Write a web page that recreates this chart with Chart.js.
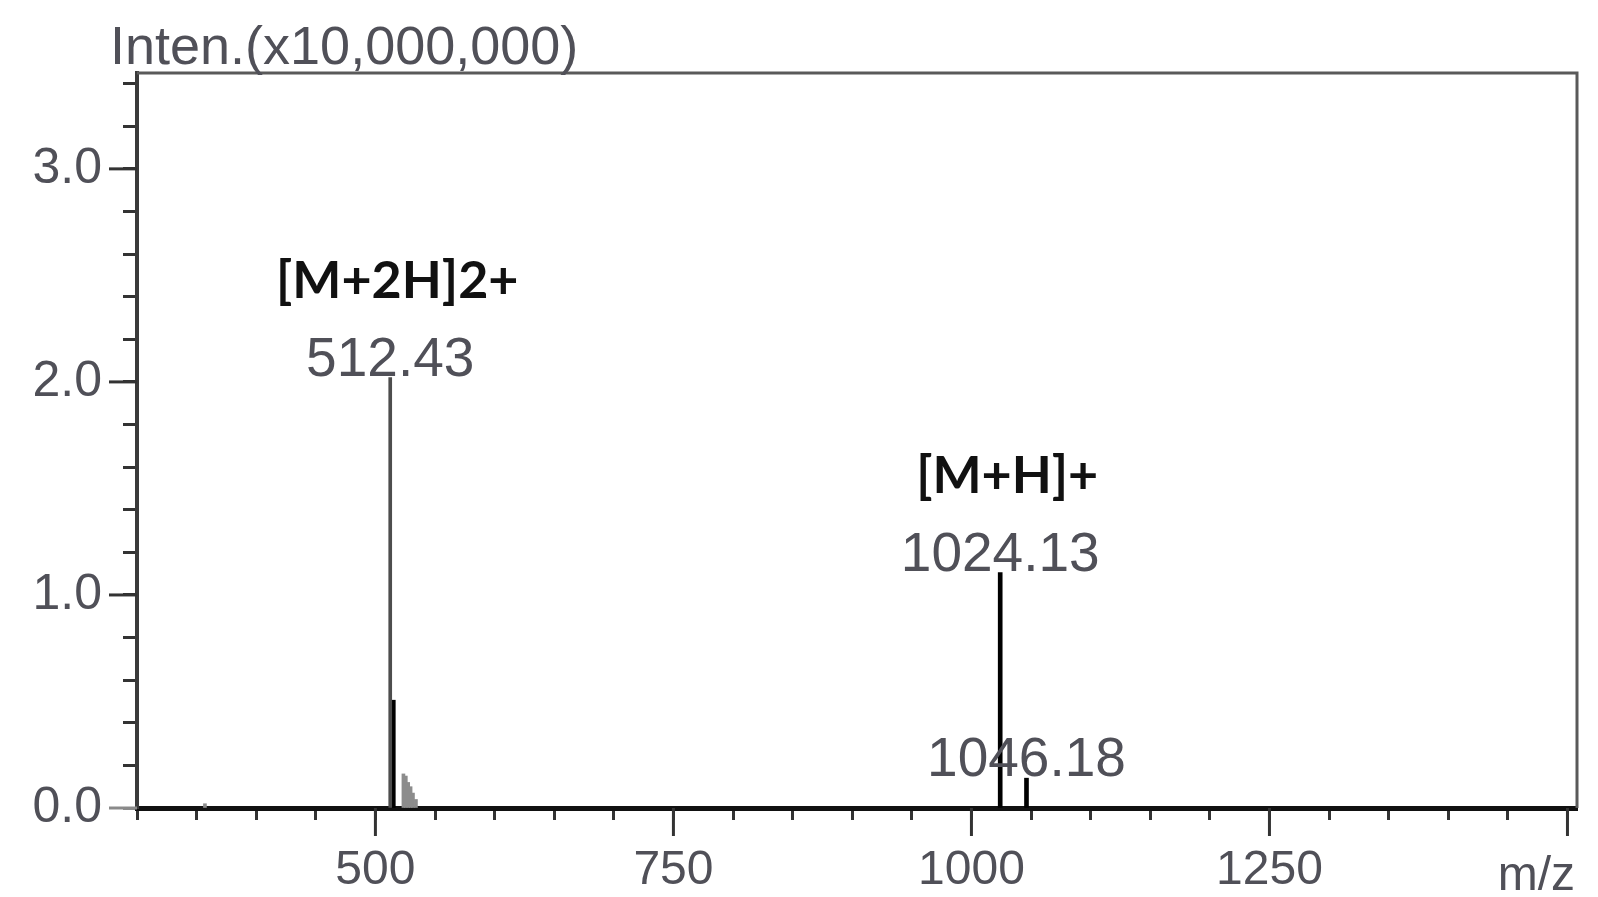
<!DOCTYPE html>
<html>
<head>
<meta charset="utf-8">
<title>MS spectrum</title>
<script src="https://cdn.jsdelivr.net/npm/chart.js@4.4.0/dist/chart.umd.min.js"></script>
<style>
  html, body { margin: 0; padding: 0; background: #fff; }
  #wrap { width: 1598px; height: 897px; position: relative; }
</style>
</head>
<body>
<div id="wrap"><canvas id="msChart"></canvas></div>
<script>
// PEAK DATA (m/z and intensity x10,000,000)
var mzBase = [512.43];
var intenBase = [2.02];
var mzStrong = [515.0, 1024.13, 1046.18];
var intenStrong = [0.506, 1.105, 0.14];
var mzMinor = [357.0, 523.5, 525.5, 527.5, 529.5, 531.5, 534.0];
var intenMinor = [0.02, 0.16, 0.15, 0.12, 0.10, 0.07, 0.04];

// LABELS
var peakLabelMz = [512.43, 1024.13, 1046.18];
var peakLabelInten = [2.02, 1.105, 0.14];
var peakLabelText = ['512.43', '1024.13', '1046.18'];
var ionMz = [512.43, 1024.13];
var ionInten = [2.02, 1.105];
var ionText = ['[M+2H]2+', '[M+H]+'];

// AXES
var xMin = 300, xMax = 1508;
var yMin = 0, yMax = 3.45;
var xTicks = [300, 350, 400, 450, 500, 550, 600, 650, 700, 750, 800, 850, 900, 950, 1000, 1050, 1100, 1150, 1200, 1250, 1300, 1350, 1400, 1450, 1500];
var xMajor = [500, 750, 1000, 1250, 1500];
var xTickLabels = ['500', '750', '1000', '1250'];
var yTicks = [0, 0.2, 0.4, 0.6, 0.8, 1.0, 1.2, 1.4, 1.6, 1.8, 2.0, 2.2, 2.4, 2.6, 2.8, 3.0, 3.2, 3.4];
var yMajor = [0, 1.0, 2.0, 3.0];
var yTickLabels = ['0.0', '1.0', '2.0', '3.0'];
var yTitle = 'Inten.(x10,000,000)';
var xTitle = 'm/z';

function toPoints(xs, ys) {
  return xs.map(function (x, i) { return { x: x, y: ys[i] }; });
}
function isMajor(list, v) {
  return list.some(function (m) { return Math.abs(m - v) < 1e-6; });
}

var labelGray = '#505058';
var tickFont = '"Liberation Sans", Arial, sans-serif';

// FRAME, LONG TICKS AND TEXT
var spectrumDecor = {
  id: 'spectrumDecor',
  beforeDatasetsDraw: function (chart) {
    var ctx = chart.ctx, area = chart.chartArea;
    ctx.save();
    // top + right frame
    ctx.strokeStyle = '#5a5a5a';
    ctx.lineWidth = 3;
    ctx.beginPath();
    ctx.moveTo(area.left, area.top);
    ctx.lineTo(area.right, area.top);
    ctx.lineTo(area.right, area.bottom);
    ctx.stroke();
    ctx.restore();
  },
  afterDraw: function (chart) {
    var ctx = chart.ctx, area = chart.chartArea;
    var xs = chart.scales.x, ys = chart.scales.y;
    ctx.save();
    // longer major ticks
    ctx.lineWidth = 3;
    xMajor.forEach(function (v) {
      var px = xs.getPixelForValue(v);
      ctx.strokeStyle = '#333';
      ctx.beginPath();
      ctx.moveTo(px, area.bottom);
      ctx.lineTo(px, area.bottom + 28);
      ctx.stroke();
    });
    yMajor.forEach(function (v) {
      var py = ys.getPixelForValue(v);
      ctx.strokeStyle = v === 0 ? '#8a8a8a' : '#333';
      ctx.beginPath();
      ctx.moveTo(area.left, py);
      ctx.lineTo(area.left - 28, py);
      ctx.stroke();
    });

    // axis titles
    ctx.fillStyle = labelGray;
    ctx.font = '54px ' + tickFont;
    ctx.textAlign = 'left';
    ctx.textBaseline = 'alphabetic';
    ctx.fillText(yTitle, area.left - 27, area.top - 9);
    ctx.font = '48px ' + tickFont;
    ctx.textAlign = 'right';
    ctx.fillText(xTitle, area.right - 2, area.bottom + 82);

    // peak labels
    ctx.font = '55px ' + tickFont;
    ctx.textAlign = 'center';
    peakLabelText.forEach(function (t, i) {
      var px = xs.getPixelForValue(peakLabelMz[i]);
      var py = ys.getPixelForValue(peakLabelInten[i]);
      ctx.fillStyle = labelGray;
      ctx.fillText(t, px, py - 2);
    });

    // ion labels
    ctx.font = 'bold 52px Lato, "Open Sans", sans-serif';
    ctx.fillStyle = '#111';
    ionText.forEach(function (t, i) {
      var px = xs.getPixelForValue(ionMz[i]);
      var py = ys.getPixelForValue(ionInten[i]);
      ctx.fillText(t, px + 7, py - 80);
    });
    ctx.restore();
  }
};

var ctx = document.getElementById('msChart').getContext('2d');
var msChart = new Chart(ctx, {
  type: 'bar',
  data: {
    datasets: [
      { data: toPoints(mzMinor, intenMinor), backgroundColor: '#8c8c8c', barThickness: 3 },
      { data: toPoints(mzBase, intenBase), backgroundColor: '#4d4d4d', barThickness: 3 },
      { data: toPoints(mzStrong, intenStrong), backgroundColor: '#000', barThickness: 4 }
    ]
  },
  options: {
    responsive: true,
    maintainAspectRatio: false,
    animation: false,
    grouped: false,
    layout: { padding: { top: 73, right: 21, left: 0, bottom: 0 } },
    plugins: {
      legend: { display: false },
      tooltip: { enabled: false }
    },
    scales: {
      x: {
        type: 'linear',
        min: xMin,
        max: xMax,
        offset: false,
        afterBuildTicks: function (scale) {
          scale.ticks = xTicks.map(function (v) { return { value: v }; });
        },
        afterFit: function (scale) { scale.height = 89; },
        grid: {
          offset: false,
          drawOnChartArea: false,
          drawTicks: true,
          tickLength: 12,
          tickWidth: 3,
          tickColor: '#333'
        },
        border: { display: true, color: '#111', width: 5 },
        ticks: {
          autoSkip: false,
          maxRotation: 0,
          padding: 22,
          color: labelGray,
          font: { family: tickFont, size: 48 },
          callback: function (v) {
            var k = xMajor.indexOf(v);
            return (k >= 0 && k < xTickLabels.length) ? xTickLabels[k] : '';
          }
        }
      },
      y: {
        type: 'linear',
        min: yMin,
        max: yMax,
        afterBuildTicks: function (scale) {
          scale.ticks = yTicks.map(function (v) { return { value: v }; });
        },
        afterFit: function (scale) { scale.width = 137; },
        grid: {
          drawOnChartArea: false,
          drawTicks: true,
          tickLength: 14,
          tickWidth: 3,
          tickColor: function (c) { return c.tick && c.tick.value === 0 ? '#8a8a8a' : '#333'; }
        },
        border: { display: true, color: '#3a3a3a', width: 4 },
        ticks: {
          autoSkip: false,
          padding: 21,
          color: labelGray,
          font: { family: tickFont, size: 50 },
          callback: function (v) {
            for (var i = 0; i < yMajor.length; i++) {
              if (Math.abs(yMajor[i] - v) < 1e-6) return yTickLabels[i];
            }
            return '';
          }
        }
      }
    }
  },
  plugins: [spectrumDecor]
});
</script>
</body>
</html>
